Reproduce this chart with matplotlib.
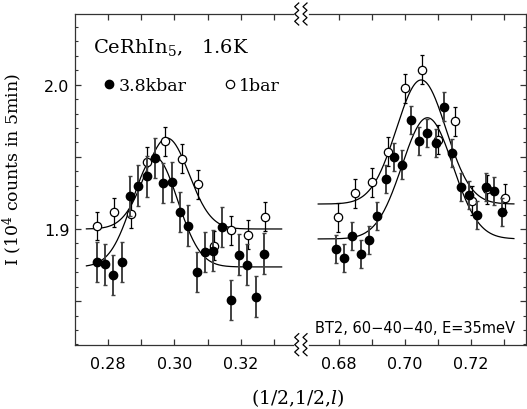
import numpy as np
import matplotlib
matplotlib.use("Agg")
import matplotlib.pyplot as plt
from matplotlib.lines import Line2D
from matplotlib.ticker import MultipleLocator, FuncFormatter

plt.rcParams['mathtext.fontset'] = 'dejavuserif'

# data, l in r.l.u., I in 10^4 counts / 5 min
# left peak (l ~ 0.3)
l_hp_left = [0.2766, 0.2791, 0.2816, 0.2841, 0.2866, 0.2891, 0.2917, 0.2942, 0.2967,
             0.2992, 0.3017, 0.3042, 0.3067, 0.3092, 0.3117, 0.3143, 0.3170, 0.3195,
             0.3220, 0.3245, 0.3270]
I_hp_left = [1.8773, 1.8755, 1.8683, 1.8773, 1.9227, 1.9300, 1.9365, 1.9490, 1.9317,
             1.9324, 1.9116, 1.9023, 1.8700, 1.8839, 1.8850, 1.9012, 1.8508, 1.8822,
             1.8753, 1.8531, 1.8829]
l_amb_left = [0.2768, 0.2818, 0.2868, 0.2918, 0.2972, 0.3022, 0.3070, 0.3120, 0.3171,
              0.3223, 0.3273]
I_amb_left = [1.9021, 1.9116, 1.9106, 1.9466, 1.9608, 1.9487, 1.9310, 1.8884, 1.8991,
              1.8961, 1.9085]

# right peak (l ~ 0.7)
l_hp_right = [0.6790, 0.6815, 0.6840, 0.6866, 0.6891, 0.6916, 0.6941, 0.6967, 0.6992,
              0.7017, 0.7042, 0.7067, 0.7093, 0.7118, 0.7143, 0.7169, 0.7194, 0.7219,
              0.7245, 0.7270, 0.7295]
I_hp_right = [1.8861, 1.8797, 1.8949, 1.8829, 1.8922, 1.9092, 1.9344, 1.9497, 1.9446,
              1.9757, 1.9612, 1.9665, 1.9594, 1.9848, 1.9527, 1.9289, 1.9238, 1.9097,
              1.9289, 1.9261, 1.9120]
l_amb_right = [0.6798, 0.6848, 0.6899, 0.6949, 0.7000, 0.7051, 0.7101, 0.7152, 0.7202,
               0.7250, 0.7303]
I_amb_right = [1.9081, 1.9247, 1.9324, 1.9536, 1.9975, 2.0104, 1.9619, 1.9746, 1.9196,
               1.9275, 1.9215]

err_hp_left = 0.014
err_hp_right = 0.0098
err_amb = 0.010

# gaussian fits: (background, amplitude, center, sigma)
fit_hp_left = (1.8737, 0.076, 0.2942, 0.0068)
fit_amb_left = (1.9000, 0.063, 0.2978, 0.0066)
fit_hp_right = (1.8931, 0.084, 0.7068, 0.0077)
fit_amb_right = (1.9173, 0.086, 0.7049, 0.0075)
fit_range_left = (0.2735, 0.3323)
fit_range_right = (0.6737, 0.7330)


def gauss(x, p):
    bg, amp, c, s = p
    return bg + amp * np.exp(-0.5 * ((x - c) / s) ** 2)


W, H = 527, 410
fig = plt.figure(figsize=(W / 100, H / 100), dpi=100)

top, bot = 15, 345.7
axL = fig.add_axes([75 / W, 1 - bot / H, (293 - 75) / W, (bot - top) / H])
axR = fig.add_axes([309 / W, 1 - bot / H, (526 - 309) / W, (bot - top) / H])

axL.set_xlim(0.28 + (75 - 108) / 3320, 0.28 + (293 - 108) / 3320)
axR.set_xlim(0.68 + (309 - 339) / 3300, 0.68 + (526 - 339) / 3300)
for ax in (axL, axR):
    ax.set_ylim(1.8198, 2.049)

msz = 6
for ax, la, ia, lh, ih, eh in ((axL, l_amb_left, I_amb_left, l_hp_left, I_hp_left, err_hp_left),
                               (axR, l_amb_right, I_amb_right, l_hp_right, I_hp_right, err_hp_right)):
    ax.errorbar(la, ia, yerr=err_amb, fmt='o', ms=msz, mfc='white', mec='black', mew=0.9,
                ecolor='black', elinewidth=0.9, capsize=1.2, capthick=0.9, zorder=3)
    ax.errorbar(lh, ih, yerr=eh, fmt='o', ms=msz, mfc='black', mec='black',
                ecolor='0.25', elinewidth=1.4, capsize=1.2, capthick=1.0, zorder=4)

xl = np.linspace(*fit_range_left, 300)
axL.plot(xl, gauss(xl, fit_amb_left), color='black', lw=0.9, zorder=2)
axL.plot(xl, gauss(xl, fit_hp_left), color='black', lw=0.9, zorder=2)
xr = np.linspace(*fit_range_right, 300)
axR.plot(xr, gauss(xr, fit_amb_right), color='black', lw=0.9, zorder=2)
axR.plot(xr, gauss(xr, fit_hp_right), color='black', lw=0.9, zorder=2)

# ticks
xfmt = FuncFormatter(lambda v, p: f"{v:.2f}" if round(v * 100) % 2 == 0 else "")
yfmt = FuncFormatter(lambda v, p: f"{v:.1f}" if abs(v * 10 - round(v * 10)) < 1e-6 else "")
for ax in (axL, axR):
    ax.xaxis.set_major_locator(MultipleLocator(0.01))
    ax.xaxis.set_major_formatter(xfmt)
    ax.yaxis.set_major_locator(MultipleLocator(0.05))
    ax.yaxis.set_minor_locator(MultipleLocator(0.01))
    ax.tick_params(which='major', direction='in', length=4, width=0.9, top=True,
                   labelsize=11.5, pad=8, color='0.2')
    ax.tick_params(which='minor', direction='in', length=2, width=0.8, color='0.2')
    ax.tick_params(axis='y', pad=4)
    for s in ax.spines.values():
        s.set_linewidth(0.9)
        s.set_color('0.2')

axL.spines['right'].set_visible(False)
axL.tick_params(axis='y', which='both', left=True, right=False)
axL.yaxis.set_major_formatter(yfmt)

axR.spines['left'].set_visible(False)
axR.tick_params(axis='y', which='both', left=False, right=True, labelleft=False)

axL.set_ylabel("I (10$^4$ counts in 5min)", fontsize=12.5, family='DejaVu Serif')
axL.yaxis.set_label_coords(-0.232, 0.534)
fig.text(298 / W, 1 - 398 / H, "(1/2,1/2,$l$)", fontsize=13.5, family='DejaVu Serif',
         ha='center', va='center')

axL.text(0.083, 0.884, "CeRhIn$_5$,   1.6K", transform=axL.transAxes, fontsize=14,
         family='DejaVu Serif', ha='left', va='baseline')
axR.text(0.028, 0.039, "BT2, 60\u221240\u221240, E=35meV", transform=axR.transAxes,
         fontsize=10.5, family='DejaVu Sans', ha='left', va='baseline')

handles = [Line2D([], [], marker='o', ls='none', ms=msz, mfc='black', mec='black'),
           Line2D([], [], marker='o', ls='none', ms=msz, mfc='white', mec='black', mew=0.9)]
axL.legend(handles, ["3.8kbar", "1bar"], ncol=2, loc='center left',
           bbox_to_anchor=(0.1376, 0.785), frameon=False, borderpad=0, borderaxespad=0,
           handlelength=0.5, handletextpad=0.31, columnspacing=2.2,
           prop={'family': 'DejaVu Serif', 'size': 12.5})

# axis break marks
def zigzag(xc, y0, y1, n=6, amp=2.0):
    ys = np.linspace(y0, y1, n + 1)
    xs = xc + amp * np.array([(-1) ** i for i in range(n + 1)])
    fig.add_artist(Line2D(xs / W, 1 - ys / H, transform=fig.transFigure,
                          color='black', lw=0.9))

for yy in (top, bot):
    zigzag(296.7, yy - 11, yy + 11)
    zigzag(305.0, yy - 11, yy + 11)

fig.savefig("out.png", dpi=100)
